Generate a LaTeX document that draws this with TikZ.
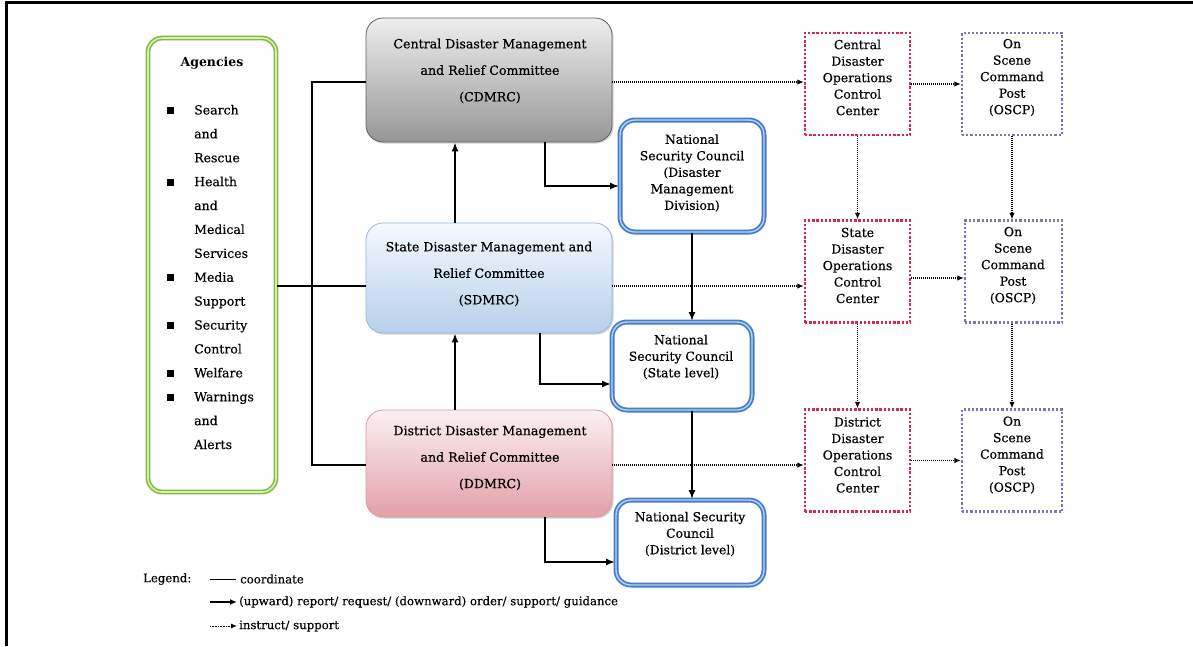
\documentclass[tikz,border=0pt]{standalone}
\usepackage{fontspec}
\setmainfont{DejaVu Serif}
\newfontfamily\heavy{DejaVu Serif}[FakeBold=0.6]
\newfontfamily\semi{DejaVu Serif}[FakeBold=0.3]
\usetikzlibrary{arrows.meta,shadows}
\definecolor{agreen}{RGB}{135,185,65}
\definecolor{agreenl}{RGB}{215,238,180}
\definecolor{nblue}{RGB}{70,125,200}
\definecolor{nbluel}{RGB}{185,212,242}
\definecolor{rdot}{RGB}{212,40,80}
\definecolor{pdot}{RGB}{125,115,185}
\definecolor{cgtop}{RGB}{238,238,238}
\definecolor{cgbot}{RGB}{150,150,150}
\definecolor{sbtop}{RGB}{245,249,253}
\definecolor{sbbot}{RGB}{182,208,236}
\definecolor{sbdraw}{RGB}{150,182,222}
\definecolor{dptop}{RGB}{252,240,242}
\definecolor{dpbot}{RGB}{226,160,168}
\definecolor{dpdraw}{RGB}{218,150,160}
\newcommand\agbullet{\rule[0.5pt]{7pt}{7pt}}
\begin{document}
\begin{tikzpicture}[x=1pt,y=-1pt,
  comm/.style={rounded corners=17pt, line width=0.8pt, inner sep=0pt,
    drop shadow={shadow xshift=1.5pt, shadow yshift=-1.5pt, opacity=0.35}},
  nsc/.style={rounded corners=15pt, draw=nblue, line width=1.8pt, double=nbluel, double distance=1.4pt, fill=white, inner sep=0pt},
  redbox/.style={draw=rdot, line width=2.4pt, dash pattern=on 2.4pt off 1.8pt, fill=white, inner sep=0pt, minimum width=105pt, minimum height=102pt},
  purbox/.style={draw=pdot, line width=2.2pt, dash pattern=on 2.2pt off 2pt, fill=white, inner sep=0pt, minimum width=100pt, minimum height=102pt},
  btxt/.style={font=\heavy\fontsize{12.6}{26.5}\selectfont, align=center, inner sep=0pt},
  stxt/.style={font=\semi\fontsize{12.4}{16.5}\selectfont, align=center, inner sep=0pt},
  ltxt/.style={font=\semi\fontsize{11.7}{14}\selectfont, anchor=west, inner sep=0pt},
  ln/.style={line width=2.2pt},
  arr/.style={line width=2pt, -{Latex[length=9pt,width=7pt]}},
  darr/.style={line width=1.4pt, dash pattern=on 1pt off 1pt, -{Latex[length=6.5pt,width=5.5pt]}}
]
\useasboundingbox (0,0) rectangle (1193,646);
\draw[line width=3pt] (6,646) -- (6,2.5) -- (1193,2.5);

% Agencies
\node[rounded corners=14pt, draw=agreen, line width=1.6pt, double=agreenl, double distance=1.6pt, fill=white, minimum width=128pt, minimum height=454pt, inner sep=0pt] (agen) at (212,265) {};
\node[btxt, font=\fontsize{12.5}{16}\selectfont\bfseries] (agen-t) at (212,63) {Agencies};
\node[anchor=north west, inner sep=0pt, font=\semi\fontsize{12.5}{23.9}\selectfont] (alist) at (167,97.5) {%
\begin{tabular}{@{}l@{\hspace{20pt}}l@{}}
\agbullet & Search\\ & and\\ & Rescue\\
\agbullet & Health\\ & and\\ & Medical\\ & Services\\
\agbullet & Media\\ & Support\\
\agbullet & Security\\ & Control\\
\agbullet & Welfare\\
\agbullet & Warnings\\ & and\\ & Alerts
\end{tabular}};

% Committees
\node[comm, draw=gray!75!black, top color=cgtop, bottom color=cgbot, minimum width=246pt, minimum height=124pt] (cdmrc) at (489,80) {};
\node[btxt] (cdmrc-t) at (490,71) {Central Disaster Management\\and Relief Committee\\(CDMRC)};
\node[comm, draw=sbdraw, top color=sbtop, bottom color=sbbot, minimum width=246pt, minimum height=110pt] (sdmrc) at (489,278) {};
\node[btxt] (sdmrc-t) at (489,274) {State Disaster Management and\\Relief Committee\\(SDMRC)};
\node[comm, draw=dpdraw, top color=dptop, bottom color=dpbot, minimum width=246pt, minimum height=107pt] (ddmrc) at (489,463.5) {};
\node[btxt] (ddmrc-t) at (490,458) {District Disaster Management\\and Relief Committee\\(DDMRC)};

% National Security Council
\node[nsc, minimum width=144pt, minimum height=112pt] (nsc1) at (692,176) {};
\node[stxt, font=\heavy\fontsize{12.4}{16.5}\selectfont] (nsc1-t) at (692,173) {National\\Security Council\\(Disaster\\Management\\Division)};
\node[nsc, minimum width=140pt, minimum height=88pt] (nsc2) at (682,366) {};
\node[stxt, font=\heavy\fontsize{12.4}{16.5}\selectfont] (nsc2-t) at (681,357) {National\\Security Council\\(State level)};
\node[nsc, minimum width=148pt, minimum height=85pt] (nsc3) at (690,542.5) {};
\node[stxt, font=\heavy\fontsize{12.4}{16.5}\selectfont] (nsc3-t) at (690,534) {National Security\\Council\\(District level)};

% Operations control centers
\node[redbox] (red1) at (857.5,84) {};
\node[stxt] (red1-t) at (857.5,77.5) {Central\\Disaster\\Operations\\Control\\Center};
\node[redbox] (red2) at (857.5,271.5) {};
\node[stxt] (red2-t) at (857.5,265.5) {State\\Disaster\\Operations\\Control\\Center};
\node[redbox] (red3) at (857.5,460.5) {};
\node[stxt] (red3-t) at (857.5,455) {District\\Disaster\\Operations\\Control\\Center};

% On scene command posts
\node[purbox] (pur1) at (1012,84) {};
\node[stxt] (pur1-t) at (1012,77.5) {On\\Scene\\Command\\Post\\(OSCP)};
\node[purbox, minimum width=97pt] (pur2) at (1013.5,271.5) {};
\node[stxt] (pur2-t) at (1013,265.5) {On\\Scene\\Command\\Post\\(OSCP)};
\node[purbox] (pur3) at (1012,460.5) {};
\node[stxt] (pur3-t) at (1012,455) {On\\Scene\\Command\\Post\\(OSCP)};

% coordinate lines
\coordinate (j1) at (312,82);
\coordinate (j2) at (312,286);
\coordinate (j3) at (312,465);
\draw[ln] (cdmrc.west |- j1) -- (j1) -- (j3) -- (j3 -| ddmrc.west);
\draw[ln] (agen.east |- j2) -- (j2 -| sdmrc.west);

% solid arrows
\draw[arr] ([xshift=-34pt]sdmrc.north) -- ([xshift=-34pt]cdmrc.south);
\draw[arr] ([xshift=-34pt]ddmrc.north) -- ([xshift=-34pt]sdmrc.south);
\draw[arr] ([xshift=56pt]cdmrc.south) |- ([yshift=-10pt]nsc1.west);
\draw[arr] ([xshift=51pt]sdmrc.south) |- ([yshift=-18pt]nsc2.west);
\draw[arr] ([xshift=56pt]ddmrc.south) |- ([yshift=-19.5pt]nsc3.west);
\draw[arr] (nsc1.south) -- (nsc1.south |- nsc2.north);
\draw[arr] (nsc2.south -| nsc1.south) -- (nsc3.north -| nsc1.south);

% dotted arrows
\draw[darr] (cdmrc.east |- j1) -- (j1 -| red1.west);
\draw[darr] (sdmrc.east |- j2) -- (j2 -| red2.west);
\draw[darr] (ddmrc.east |- j3) -- (j3 -| red3.west);
\draw[darr] (red1.east) -- (red1.east -| pur1.west);
\draw[darr] ([yshift=-6.5pt]red2.east) -- ([yshift=-6.5pt]red2.east -| pur2.west);
\draw[darr] (red3.east) -- (red3.east -| pur3.west);
\draw[darr] (red1.south) -- (red2.north);
\draw[darr] (red2.south) -- (red3.north);
\draw[darr] (pur1.south) -- (pur1.south |- pur2.north);
\draw[darr] (pur2.south -| pur1.south) -- (pur1.south |- pur3.north);

% legend
\node[ltxt] (leg) at (143,579) {Legend:};
\coordinate (la1) at (210,579); \coordinate (lb1) at (236,579);
\coordinate (la2) at (210,602); \coordinate (lb2) at (237,602);
\coordinate (la3) at (210,626); \coordinate (lb3) at (237,626);
\draw[line width=1pt] (la1) -- (lb1);
\draw[line width=1.6pt, -{Latex[length=7pt,width=6pt]}] (la2) -- (lb2);
\draw[line width=1pt, dash pattern=on 0.8pt off 0.8pt, -{Latex[length=6pt,width=5pt]}] (la3) -- (lb3);
\node[ltxt] (leg1) at (240,579) {coordinate};
\node[ltxt] (leg2) at (239,602) {(upward) report/ request/ (downward) order/ support/ guidance};
\node[ltxt] (leg3) at (239,626) {instruct/ support};
\end{tikzpicture}
\end{document}
